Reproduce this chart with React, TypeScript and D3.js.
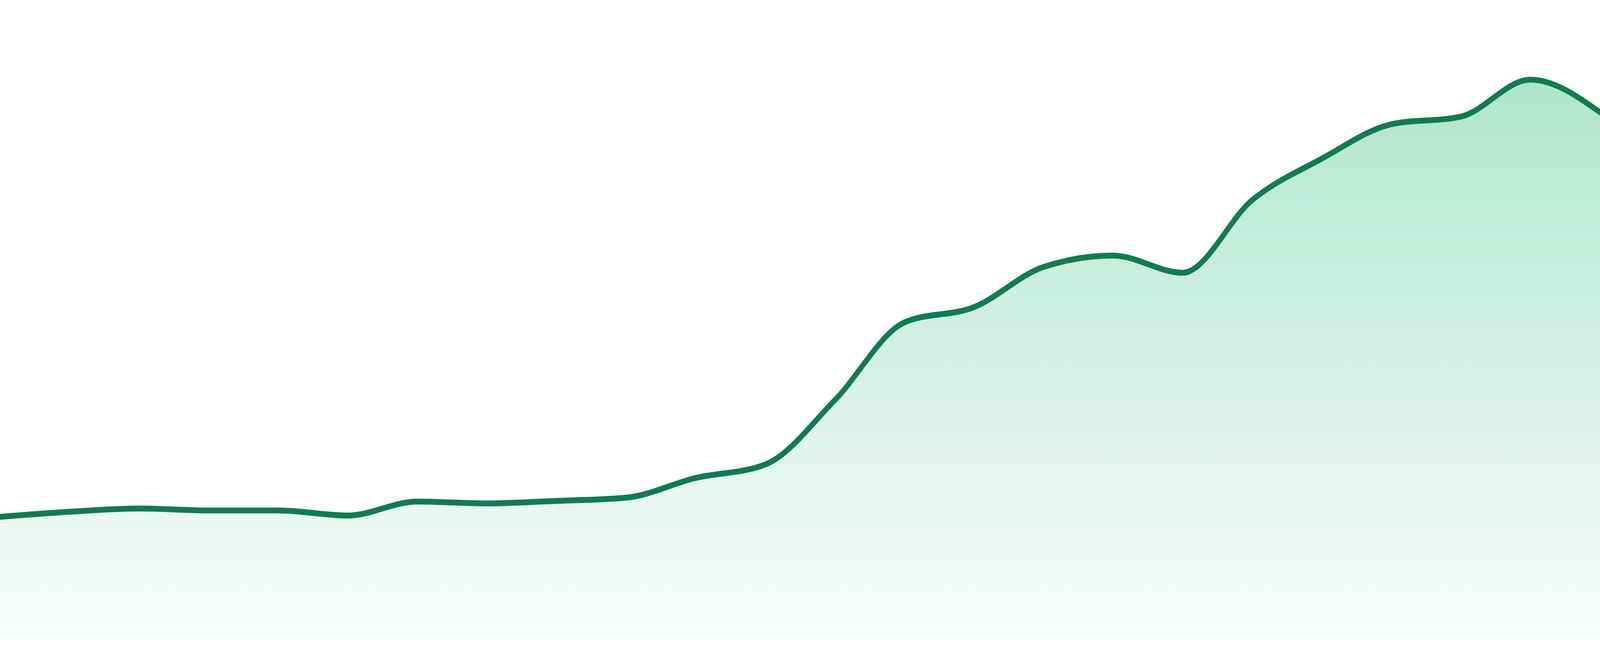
import { useEffect } from 'react';
import * as d3 from 'd3';

// evenly spaced observations, left to right
const periods = d3.range(24);
const values = [
  18.9, 19.7, 20.2, 19.9, 19.9, 19.1, 21.3, 21.0, 21.4, 21.9, 25.0, 27.1,
  37.2, 49.4, 51.8, 58.1, 59.9, 57.2, 68.6, 75.1, 80.5, 81.7, 87.5, 82.4,
];
const valueDomain = [0, 100];

const width = 4800;
const height = 1680;
const bottomGap = 48;

export default function App() {
  useEffect(() => {
    document.body.style.margin = '0';
    document.body.style.overflow = 'hidden';
  }, []);

  const x = d3.scaleLinear()
    .domain([0, periods.length - 1])
    .range([0, width]);

  const y = d3.scaleLinear()
    .domain(valueDomain)
    .range([height - bottomGap, 0]);

  const rows = periods.map((p, i) => ({ p, v: values[i] }));

  const area = d3.area<any>()
    .x(d => x(d.p))
    .y0(y(0))
    .y1(d => y(d.v))
    .curve(d3.curveMonotoneX);

  const line = d3.line<any>()
    .x(d => x(d.p))
    .y(d => y(d.v))
    .curve(d3.curveMonotoneX);

  return (
    <div style={{ position: 'fixed', top: 0, left: 0, width: '100vw', height: '100vh', background: '#ffffff' }}>
      <svg
        viewBox={`0 0 ${width} ${height}`}
        preserveAspectRatio="none"
        style={{ display: 'block', width: '100%', height: '100%' }}
      >
        <defs>
          <linearGradient id="fillGrad" x1="0" y1="0" x2="0" y2="1">
            <stop offset="0%" stopColor="#1eb376" stopOpacity={0.35} />
            <stop offset="100%" stopColor="#1eb376" stopOpacity={0.03} />
          </linearGradient>
        </defs>
        <path d={area(rows) || ''} fill="url(#fillGrad)" />
        <path
          d={line(rows) || ''}
          fill="none"
          stroke="#127b52"
          strokeWidth={15}
          strokeLinejoin="round"
          strokeLinecap="round"
        />
      </svg>
    </div>
  );
}
